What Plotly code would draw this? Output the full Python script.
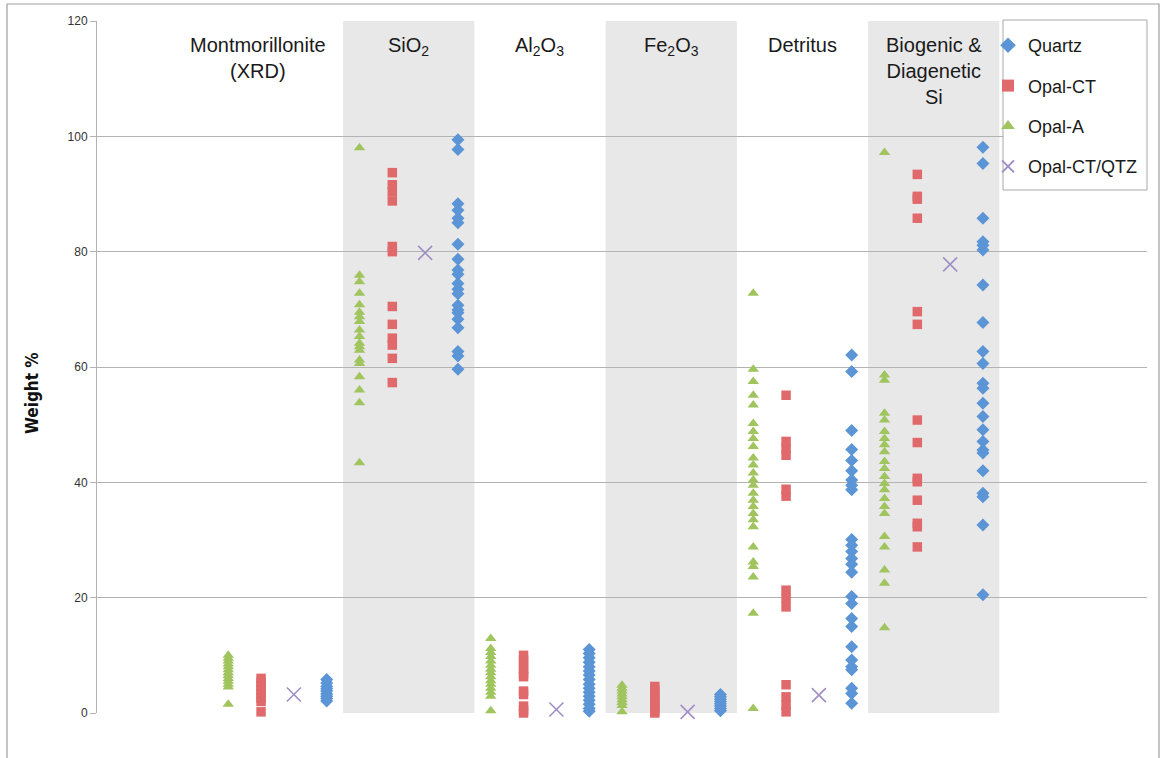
import plotly.graph_objects as go

# ---------------- data ----------------
categories = ["Montmorillonite<br>(XRD)", "SiO<sub>2</sub>", "Al<sub>2</sub>O<sub>3</sub>",
              "Fe<sub>2</sub>O<sub>3</sub>", "Detritus", "Biogenic &<br>Diagenetic<br>Si"]

opal_a = [
    [10.0, 9.5, 9.0, 8.5, 8.0, 7.5, 7.0, 6.5, 6.0, 5.5, 5.0, 4.5, 1.5],
    [98.0, 75.9, 74.8, 72.8, 70.8, 69.5, 68.7, 67.9, 66.4, 65.3, 64.1, 63.5, 62.9, 61.2,
     60.6, 58.3, 56.0, 53.8, 43.4],
    [12.9, 11.2, 10.5, 9.8, 9.0, 8.3, 7.6, 7.0, 6.3, 5.6, 5.0, 4.3, 3.6, 2.9, 0.4],
    [4.8, 4.3, 3.8, 3.3, 2.8, 2.3, 1.8, 1.3, 0.2],
    [72.8, 59.6, 57.5, 55.1, 53.4, 50.2, 48.8, 47.6, 46.2, 44.2, 43.0, 41.6, 40.4, 39.5,
     38.1, 36.9, 35.8, 34.6, 33.5, 32.3, 28.8, 26.2, 25.4, 23.6, 17.3, 0.8],
    [97.2, 58.6, 57.7, 52.0, 50.8, 48.8, 47.6, 46.5, 45.3, 43.6, 42.4, 41.0, 39.8, 38.7,
     37.2, 35.8, 34.6, 30.6, 28.8, 24.8, 22.5, 14.8],
]

opal_ct = [
    [6.0, 5.3, 4.6, 4.0, 3.3, 2.6, 2.0, 0.2],
    [93.7, 91.6, 90.4, 88.8, 80.9, 80.0, 70.5, 67.4, 65.0, 63.8, 61.5, 57.3],
    [10.0, 9.2, 8.4, 7.6, 6.8, 6.3, 3.8, 3.2, 1.2, 0.5, 0.0],
    [4.6, 4.0, 3.4, 2.8, 2.2, 1.6, 1.0, 0.4, 0.0],
    [55.1, 47.1, 45.9, 44.7, 38.8, 37.6, 21.3, 19.9, 18.4, 4.9, 2.8, 1.4, 0.2],
    [93.4, 89.6, 89.1, 85.8, 69.6, 67.4, 50.8, 46.9, 40.7, 40.1, 36.9, 32.9, 32.3, 28.8],
]

opal_ct_qtz = [3.2, 79.8, 0.6, 0.2, 3.1, 77.8]

quartz = [
    [5.8, 5.2, 4.6, 4.2, 3.8, 3.3, 2.9, 2.5, 2.1],
    [99.4, 97.7, 88.3, 87.2, 85.8, 85.0, 81.3, 78.7, 76.8, 76.1, 74.5, 73.5, 72.7, 70.7,
     69.9, 69.4, 68.3, 66.8, 62.7, 61.9, 59.6],
    [11.0, 10.3, 9.6, 8.8, 8.0, 7.3, 6.6, 5.8, 5.0, 4.3, 3.6, 2.9, 2.2, 1.5, 0.8, 0.3],
    [3.2, 2.8, 2.4, 2.0, 1.6, 1.2, 0.8, 0.4],
    [62.1, 59.2, 49.0, 45.7, 43.8, 42.0, 40.4, 39.5, 38.7, 30.1, 29.1, 28.0, 26.8, 25.8,
     24.4, 20.2, 19.0, 16.4, 15.0, 11.5, 9.2, 8.0, 7.5, 4.3, 3.4, 1.7],
    [98.1, 95.3, 85.8, 81.7, 81.1, 80.3, 74.2, 67.7, 62.7, 60.6, 57.2, 56.3, 53.7, 51.4,
     49.1, 47.1, 45.6, 45.1, 42.0, 38.1, 37.5, 32.6, 20.5],
]

y_ticks = [0, 20, 40, 60, 80, 100, 120]

# ---------------- layout constants ----------------
W, H = 1161, 758
L, R, T, B = 97, 14, 21, 45
PW, PH = W - L - R, H - T - B
COL0, COLW = 4, 4  # first category starts at x=4, each is 4 units wide


def px_x(p):
    return (p - L) / PW


def px_y(p):
    return (H - B - p) / PH


def xs(i, off, n):
    return [COL0 + COLW * i + off] * n


FONT = "Liberation Sans, Arial, Helvetica, sans-serif"
NARROW = "DejaVu Sans Condensed, Liberation Sans, sans-serif"
C_Q = "#5B95D6"
C_CT = "#E06A6B"
C_A = "#A0C45E"
C_X = "#A08FC6"

fig = go.Figure()

series = [
    ("Quartz", quartz, 3, dict(symbol="diamond", size=10, color=C_Q)),
    ("Opal-CT", opal_ct, 1, dict(symbol="square", size=9.5, color=C_CT)),
    ("Opal-A", opal_a, 0, dict(symbol="triangle-up", size=10, color=C_A)),
]
for name, data, off, mk in series:
    xv, yv = [], []
    for i, vals in enumerate(data):
        xv += xs(i, off, len(vals))
        yv += vals
    fig.add_trace(go.Scatter(x=xv, y=yv, mode="markers", name=name, legendgroup=name,
                             marker=dict(line=dict(width=0), **mk), cliponaxis=False))

fig.add_trace(go.Scatter(
    x=[COL0 + COLW * i + 2 for i in range(len(opal_ct_qtz))], y=opal_ct_qtz,
    mode="markers", name="Opal-CT/QTZ", legendgroup="Opal-CT/QTZ",
    marker=dict(symbol="x-thin-open", size=14, color=C_X, line=dict(width=1.6, color=C_X)),
    cliponaxis=False))

shapes = []
# shaded category bands
for i in (1, 3, 5):
    shapes.append(dict(type="rect", xref="x", yref="paper",
                       x0=COL0 + COLW * i - 0.5, x1=COL0 + COLW * i + 3.5, y0=0, y1=1,
                       fillcolor="#E8E8E8", line=dict(width=0), layer="below"))
# legend box
shapes.append(dict(type="rect", xref="paper", yref="paper",
                   x0=px_x(1003), x1=px_x(1147), y0=px_y(190), y1=px_y(20),
                   fillcolor="white", line=dict(color="#A8A8A8", width=1), layer="above"))
# outer chart frame
shapes.append(dict(type="rect", xref="paper", yref="paper",
                   x0=px_x(7), x1=px_x(1159), y0=px_y(765), y1=px_y(4),
                   fillcolor="rgba(0,0,0,0)", line=dict(color="#9E9E9E", width=1.2),
                   layer="above"))

annotations = []
for i, lab in enumerate(categories):
    cx = COL0 + COLW * i + 1.5
    if i == 0:
        cx -= 0.6
    annotations.append(dict(x=cx, y=px_y(32), xref="x", yref="paper", text=lab,
                            showarrow=False, xanchor="center", yanchor="top",
                            font=dict(family=FONT, size=20, color="#1a1a1a")))
# y-axis title
annotations.append(dict(x=px_x(32), y=px_y(393), xref="paper", yref="paper",
                        text="<b>Weight %</b>", textangle=-90, showarrow=False,
                        xanchor="center", yanchor="middle",
                        font=dict(family=NARROW, size=17, color="#111")))

fig.update_layout(
    width=W, height=H,
    margin=dict(l=L, r=R, t=T, b=B),
    paper_bgcolor="white", plot_bgcolor="rgba(0,0,0,0)",
    shapes=shapes, annotations=annotations,
    font=dict(family=FONT, color="#1a1a1a"),
    showlegend=True,
    legend=dict(x=px_x(988), y=px_y(27), xanchor="left", yanchor="top",
                bgcolor="rgba(0,0,0,0)", borderwidth=0,
                font=dict(family=FONT, size=18, color="#1a1a1a"),
                tracegroupgap=14, itemsizing="constant"),
    xaxis=dict(range=[0, 32], showgrid=False, zeroline=False, showticklabels=False,
               ticks="", showline=False, fixedrange=True),
    yaxis=dict(range=[0, 120], tickvals=y_ticks, showgrid=True, gridcolor="#B3B3B3",
               gridwidth=1, zeroline=False, showline=True, linecolor="#B3B3B3",
               ticks="outside", ticklen=6, tickcolor="#B3B3B3",
               tickprefix="<b>", ticksuffix="</b>",
               tickfont=dict(family=FONT, size=12, color="#333")),
)

fig.write_html("out.html", config={"displayModeBar": False},
               post_script="document.body.style.margin='0';document.body.style.padding='0';")
